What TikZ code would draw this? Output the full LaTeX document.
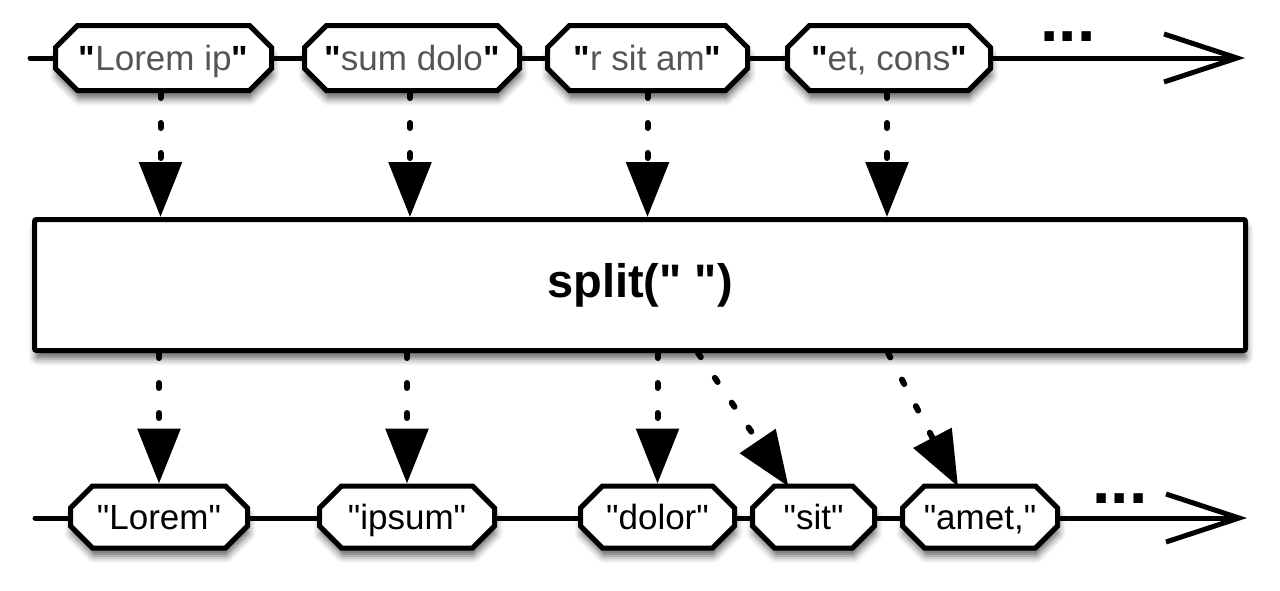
\documentclass[tikz,border=0pt]{standalone}
\usepackage{fontspec}
\setmainfont{Liberation Sans}
\usetikzlibrary{arrows.meta,shapes.misc,shadows.blur,backgrounds}
\definecolor{txtgray}{HTML}{555555}
\font\qregular="Liberation Sans" at 35pt
\font\qbold="Liberation Sans/B" at 35pt
\font\qbig="Liberation Sans/B" at 47pt
\tikzset{
  oct/.style={chamfered rectangle, chamfered rectangle xsep=11pt, chamfered rectangle ysep=11pt,
    draw=black, line width=5pt, fill=white, inner sep=0pt,
    font=\fontsize{35}{40}\selectfont, text height=30pt, text depth=6pt,
    blur shadow={shadow xshift=1pt, shadow yshift=-8pt, shadow blur radius=7pt, shadow opacity=60}},
  topoct/.style={oct, minimum height=65pt},
  botoct/.style={oct, minimum height=62pt},
  bigbox/.style={rectangle, draw=black, line width=5pt, fill=white, rounded corners=2pt,
    minimum width=1211pt, minimum height=131pt, font=\bfseries\fontsize{47}{54}\selectfont,
    blur shadow={shadow xshift=1pt, shadow yshift=-8pt, shadow blur radius=7pt, shadow opacity=60}},
  flow/.style={line width=6pt, line cap=round, dash pattern=on 5pt off 25pt,
    -{Triangle[width=42pt,length=55pt]}},
  mainline/.style={line width=5pt, line cap=round, -{Straight Barb[length=73pt,width=48pt,line cap=butt]}},
  ellip/.style={font=\bfseries\fontsize{66}{70}\selectfont, anchor=base, inner sep=0pt, text height=10pt, text depth=0pt},
}
\newcommand{\qq}{{\qregular\char34}}
\newcommand{\tq}{\textcolor{black}{\qbold\char34}}
\newcommand{\bq}{{\qbig\char34}}
\begin{document}
\begin{tikzpicture}[x=1pt,y=-1pt]
\useasboundingbox (0,0) rectangle (1280,590);
% top row
\node[topoct, minimum width=216pt] (t1) at (163.5,58) {\tq\textcolor{txtgray}{Lorem ip}\tq};
\node[topoct, minimum width=215pt] (t2) at (412,58) {\tq\textcolor{txtgray}{sum dolo}\tq};
\node[topoct, minimum width=200pt] (t3) at (647.5,58) {\tq\textcolor{txtgray}{r sit am}\tq};
\node[topoct, minimum width=203pt] (t4) at (889,58) {\tq\textcolor{txtgray}{et, cons}\tq};
\node[ellip] (tdots) at (1068,41) {...};
\coordinate (tstart) at (30,58);
\coordinate (tend) at (1245,58);
% operator box
\node[bigbox] (op) at (640,285) {split(\bq\ \bq)};
% bottom row
\node[botoct, minimum width=177pt] (b1) at (159,517) {\qq Lorem\qq};
\node[botoct, minimum width=175pt] (b2) at (407,517) {\qq ipsum\qq};
\node[botoct, minimum width=154pt] (b3) at (657.5,517) {\qq dolor\qq};
\node[botoct, minimum width=122pt] (b4) at (813.5,517) {\qq sit\qq};
\node[botoct, minimum width=155pt] (b5) at (980,517) {\qq amet,\qq};
\node[ellip] (bdots) at (1120,503) {...};
\coordinate (bstart) at (35,518);
\coordinate (bend) at (1247,518);
\begin{scope}[on background layer]
  \draw[mainline] (tstart) -- (tend);
  \draw[mainline] (bstart) -- (bend);
\end{scope}
% flows in
\draw[flow] ([xshift=-3pt]t1.south) -- ([xshift=-3pt]t1.south |- op.north);
\draw[flow] ([xshift=-2pt]t2.south) -- ([xshift=-2pt]t2.south |- op.north);
\draw[flow] (t3.south) -- (t3.south |- op.north);
\draw[flow] ([xshift=-2pt]t4.south) -- ([xshift=-2pt]t4.south |- op.north);
% flows out
\draw[flow] (op.south -| b1.north) -- (b1.north);
\draw[flow] (op.south -| b2.north) -- (b2.north);
\draw[flow] (op.south -| b3.north) -- (b3.north);
\draw[flow] ([xshift=58pt]op.south) -- ([xshift=-25pt,yshift=-3pt]b4.north);
\draw[flow] ([xshift=248pt]op.south) -- ([xshift=-22pt,yshift=-3pt]b5.north);
\end{tikzpicture}
\end{document}
